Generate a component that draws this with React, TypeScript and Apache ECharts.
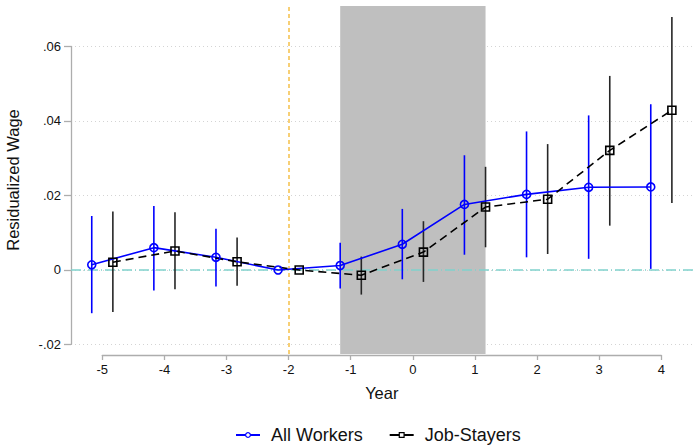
import React, { useEffect, useRef } from "react";
import * as echarts from "echarts";

const years = [-5, -4, -3, -2, -1, 0, 1, 2, 3, 4];
const allWorkers = [0.0014, 0.006, 0.0034, 0, 0.0012, 0.0069, 0.0176, 0.0203, 0.0222, 0.0223];
const allLo = [-0.0116, -0.0055, -0.0044, null, -0.005, -0.0025, 0.0041, 0.0034, 0.003, 0.0003];
const allHi = [0.0145, 0.0172, 0.0111, null, 0.0073, 0.0164, 0.0308, 0.0372, 0.0415, 0.0445];
const stayers = [0.0021, 0.0051, 0.0022, 0, -0.0014, 0.0048, 0.0169, 0.019, 0.0321, 0.0429];
const stayLo = [-0.0113, -0.0052, -0.0042, null, -0.0066, -0.0032, 0.0061, 0.0043, 0.0119, 0.018];
const stayHi = [0.0157, 0.0155, 0.0087, null, 0.0036, 0.0131, 0.0277, 0.0338, 0.0521, 0.0679];
const yTicks = [-0.02, 0, 0.02, 0.04, 0.06];
const refYear = -2;
const shade = [-1.17, 1.17];
const dodge = 0.17;

const FONT = "Liberation Sans, Arial, sans-serif";

function fmtY(v: number) {
  const r = Math.round(v * 100) / 100;
  if (r === 0) return "0";
  const s = r.toFixed(2);
  return s.replace("0.", ".");
}

export default function App() {
  const ref = useRef<HTMLDivElement>(null);
  useEffect(() => {
    if (!ref.current) return;
    const chart = echarts.init(ref.current, undefined, { renderer: "svg" });
    const awPts = years.map((y, i) => [y - dodge, allWorkers[i]]);
    const stPts = years.map((y, i) => [y + dodge, stayers[i]]);
    const awErr = years
      .map((y, i) => [y - dodge, allLo[i], allHi[i]])
      .filter((d) => d[1] !== null && d[2] !== null);
    const stErr = years
      .map((y, i) => [y + dodge, stayLo[i], stayHi[i]])
      .filter((d) => d[1] !== null && d[2] !== null);

    const errSeries = (name: string, data: any[], color: string, z: number) => ({
      type: "custom",
      name,
      xAxisIndex: 0,
      yAxisIndex: 0,
      z,
      silent: true,
      data,
      encode: { x: 0, y: [1, 2] },
      renderItem: (params: any, api: any) => {
        const x = api.value(0);
        const p1 = api.coord([x, api.value(1)]);
        const p2 = api.coord([x, api.value(2)]);
        return {
          type: "line",
          shape: { x1: p1[0], y1: p1[1], x2: p2[0], y2: p2[1] },
          style: { stroke: color, lineWidth: 1.6 },
        };
      },
    });

    const yMin = yTicks[0];
    const yMax = yTicks[yTicks.length - 1];

    chart.setOption({
      animation: false,
      textStyle: { fontFamily: FONT },
      grid: [
        { left: 71, right: 0, top: 6, bottom: 91, outerBoundsMode: "none", containLabel: false },
        { left: 102.3, right: 31.7, top: 6, bottom: 90, outerBoundsMode: "none", containLabel: false },
        { left: 71, right: 0, top: 46.5, bottom: 100.7, outerBoundsMode: "none", containLabel: false },
      ],
      xAxis: [
        {
          gridIndex: 0, type: "value", min: -5.504, max: 4.51,
          axisLine: { show: false }, axisTick: { show: false },
          axisLabel: { show: false }, splitLine: { show: false },
        },
        {
          gridIndex: 1, type: "value", min: years[0], max: years[years.length - 1], interval: 1,
          axisLine: { show: true, lineStyle: { color: "#adadad", width: 1.3 } },
          axisTick: { show: true, length: 5, lineStyle: { color: "#adadad", width: 1.3 } },
          axisLabel: { fontSize: 13, color: "#111", margin: 8, fontFamily: FONT },
          splitLine: { show: false },
          name: "Year", nameLocation: "middle", nameGap: 29,
          nameTextStyle: { fontSize: 16.5, color: "#111", fontFamily: FONT },
        },
        { gridIndex: 2, type: "value", min: 0, max: 1, show: false },
      ],
      yAxis: [
        {
          gridIndex: 0, type: "value", min: -0.02255, max: 0.07087,
          axisLine: { show: false }, axisTick: { show: false },
          axisLabel: { show: false }, splitLine: { show: false },
          name: "Residualized Wage", nameLocation: "middle", nameGap: 50,
          nameTextStyle: { fontSize: 16.5, color: "#111", fontFamily: FONT },
        },
        { gridIndex: 1, type: "value", min: 0, max: 1, show: false },
        {
          gridIndex: 2, type: "value", min: yMin, max: yMax, interval: 0.02,
          axisLine: { show: true, lineStyle: { color: "#adadad", width: 1.3 } },
          axisTick: { show: true, length: 7, lineStyle: { color: "#adadad", width: 1.3 } },
          axisLabel: { fontSize: 13, color: "#111", margin: 10, formatter: fmtY, fontFamily: FONT },
          splitLine: { show: true, lineStyle: { color: "#d4d4d4", type: [1, 3], width: 1 } },
        },
      ],
      legend: {
        left: 230,
        top: 421,
        itemWidth: 24,
        itemHeight: 6,
        itemGap: 26,
        data: [
          { name: "All Workers", itemStyle: { color: "#ffffff", borderColor: "#0000ff", borderWidth: 1.2 } },
          { name: "Job-Stayers", lineStyle: { type: "solid" }, itemStyle: { color: "#ffffff", borderColor: "#000000", borderWidth: 1.2 } },
        ],
        textStyle: { fontSize: 18, color: "#111", fontFamily: FONT, padding: [0, 0, 0, 6] },
      },
      series: [
        {
          name: "zero",
          type: "line",
          xAxisIndex: 0, yAxisIndex: 0, z: 1, silent: true,
          symbol: "none",
          data: [[-5.504, 0], [4.51, 0]],
          lineStyle: { color: "#80d2cd", width: 1.5, type: [10, 3, 1, 3] },
        },
        {
          name: "shade",
          type: "line",
          xAxisIndex: 0, yAxisIndex: 0, z: 2, silent: true,
          data: [],
          markArea: {
            silent: true,
            itemStyle: { color: "#bfbfbf" },
            data: [[{ xAxis: shade[0] }, { xAxis: shade[1] }]],
          },
          markLine: {
            silent: true,
            symbol: "none",
            label: { show: false },
            lineStyle: { color: "#f5c048", width: 1.5, type: [4, 3] },
            data: [{ xAxis: refYear }],
          },
        },
        errSeries("awErr", awErr, "#0000ff", 5),
        errSeries("stErr", stErr, "#262626", 5),
        {
          name: "All Workers",
          type: "line",
          xAxisIndex: 0, yAxisIndex: 0, z: 6,
          data: awPts,
          symbol: "circle",
          symbolSize: 8,
          lineStyle: { color: "#0000ff", width: 1.6 },
          itemStyle: { color: "rgba(255,255,255,0)", borderColor: "#0000ff", borderWidth: 1.6 },
        },
        {
          name: "Job-Stayers",
          type: "line",
          xAxisIndex: 0, yAxisIndex: 0, z: 6,
          data: stPts,
          symbol: "rect",
          symbolSize: 8,
          lineStyle: { color: "#000000", width: 1.6, type: [8, 5] },
          itemStyle: { color: "rgba(255,255,255,0)", borderColor: "#000000", borderWidth: 1.6 },
        },
      ],
    });
    return () => chart.dispose();
  }, []);
  return <div ref={ref} style={{ width: 693, height: 445, position: "absolute", left: 0, top: 0 }} />;
}
